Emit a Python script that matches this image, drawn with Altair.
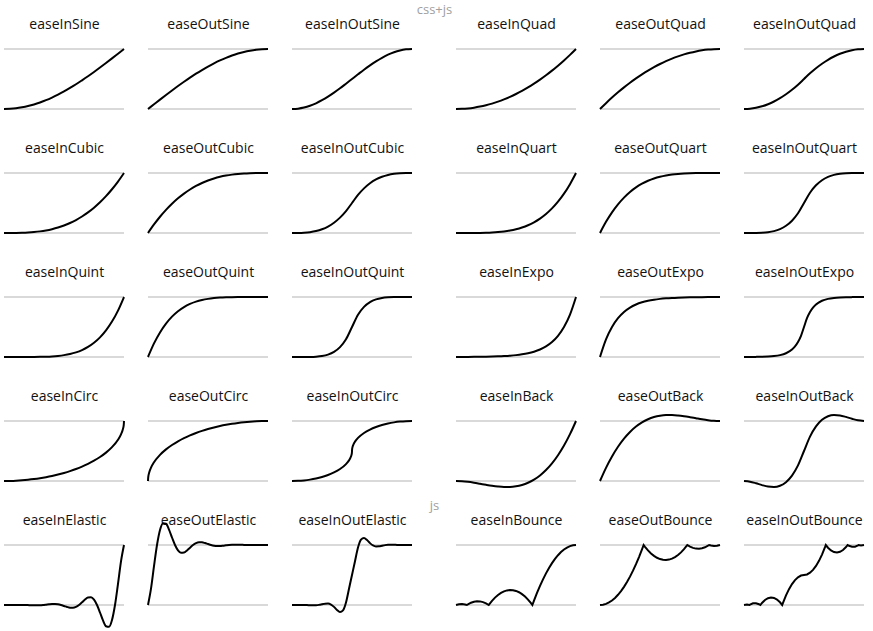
import altair as alt
import pandas as pd

# ---------------- sample positions ----------------
T21 = [0, .05, .1, .15, .2, .25, .3, .35, .4, .45, .5, .55, .6, .65, .7, .75, .8, .85, .9, .95, 1]
T41 = [0, .025, .05, .075, .1, .125, .15, .175, .2, .225, .25, .275, .3, .325, .35, .375, .4, .425,
       .45, .475, .5, .525, .55, .575, .6, .625, .65, .675, .7, .725, .75, .775, .8, .825, .85, .875,
       .9, .925, .95, .975, 1]
T_EXPO_IO = [0, .05, .1, .15, .2, .25, .3, .35, .4, .425, .45, .475, .5, .525, .55, .575, .6, .65, .7,
             .75, .8, .85, .9, .95, 1]
T_CIRC = [0, .002, .01, .025, .05, .1, .15, .2, .25, .3, .35, .4, .45, .5, .55, .6, .65, .7, .75, .8,
          .85, .9, .95, .975, .99, .998, 1]
T_CIRC_IO = [0, .05, .1, .15, .2, .25, .3, .35, .4, .45, .475, .4875, .495, .499, .5, .501, .505, .5125,
             .525, .55, .6, .65, .7, .75, .8, .85, .9, .95, 1]
T_BOUNCE_IN = [0, .025, .05, .075, .090909, .1, .125, .15, .175, .2, .225, .25, .272727, .275, .3, .325,
               .35, .375, .4, .425, .45, .475, .5, .525, .55, .575, .6, .625, .636364, .65, .675, .7,
               .725, .75, .775, .8, .825, .85, .875, .9, .925, .95, .975, 1]
T_BOUNCE_OUT = [0, .025, .05, .075, .1, .125, .15, .175, .2, .225, .25, .275, .3, .325, .35, .363636,
                .375, .4, .425, .45, .475, .5, .525, .55, .575, .6, .625, .65, .675, .7, .725, .727273,
                .75, .775, .8, .825, .85, .875, .9, .909091, .925, .95, .975, 1]
T_BOUNCE_IO = [0, .025, .045455, .05, .075, .1, .125, .136364, .15, .175, .2, .225, .25, .275, .3,
               .318182, .325, .35, .375, .4, .425, .45, .475, .5,
               .525, .55, .575, .6, .625, .65, .675, .681818, .7, .725, .75, .775, .8, .825, .85,
               .863636, .875, .9, .925, .95, .954545, .975, 1]

# ---------------- curve values ----------------
IN_SINE = [0, .003, .012, .028, .049, .076, .109, .147, .191, .240, .293, .351, .412, .478, .546, .617, .691, .767, .844, .922, 1]
OUT_SINE = [0, .078, .156, .233, .309, .383, .454, .523, .588, .649, .707, .760, .809, .853, .891, .924, .951, .972, .988, .997, 1]
INOUT_SINE = [0, .006, .024, .054, .095, .146, .206, .273, .345, .422, .5, .578, .655, .727, .794, .854, .905, .946, .976, .994, 1]

IN_QUAD = [0, .0025, .01, .0225, .04, .0625, .09, .1225, .16, .2025, .25, .3025, .36, .4225, .49, .5625, .64, .7225, .81, .9025, 1]
OUT_QUAD = [0, .0975, .19, .2775, .36, .4375, .51, .5775, .64, .6975, .75, .7975, .84, .8775, .91, .9375, .96, .9775, .99, .9975, 1]
INOUT_QUAD = [0, .005, .02, .045, .08, .125, .18, .245, .32, .405, .5, .595, .68, .755, .82, .875, .92, .955, .98, .995, 1]

IN_CUBIC = [0, .0001, .001, .0034, .008, .0156, .027, .0429, .064, .0911, .125, .1664, .216, .2746, .343, .4219, .512, .6141, .729, .8574, 1]
OUT_CUBIC = [0, .1426, .271, .3859, .488, .5781, .657, .7254, .784, .8336, .875, .9089, .936, .9571, .973, .9844, .992, .9966, .999, .9999, 1]
INOUT_CUBIC = [0, .0005, .004, .0135, .032, .0625, .108, .1715, .256, .3645, .5, .6355, .744, .8285, .892, .9375, .968, .9865, .996, .9995, 1]

IN_QUART = [0, 0, .0001, .0005, .0016, .0039, .0081, .015, .0256, .041, .0625, .0915, .1296, .1785, .2401, .3164, .4096, .522, .6561, .8145, 1]
OUT_QUART = [0, .1855, .3439, .478, .5904, .6836, .7599, .8215, .8704, .9085, .9375, .959, .9744, .985, .9919, .9961, .9984, .9995, .9999, 1, 1]
INOUT_QUART = [0, .0001, .0008, .0041, .0128, .0313, .0648, .1201, .2048, .3281, .5, .6719, .7952, .8799, .9352, .9688, .9872, .996, .9992, .9999, 1]

IN_QUINT = [0, 0, 0, .0001, .0003, .001, .0024, .0053, .0102, .0185, .0313, .0503, .0778, .116, .1681, .2373, .3277, .4437, .5905, .7738, 1]
OUT_QUINT = [0, .2262, .4095, .5563, .6723, .7627, .8319, .884, .9222, .9497, .9688, .9815, .9898, .9947, .9976, .999, .9997, .9999, 1, 1, 1]
INOUT_QUINT = [0, 0, .0002, .0012, .0051, .0156, .0389, .084, .1638, .2952, .5, .7048, .8362, .916, .9611, .9844, .9949, .9988, .9998, 1, 1]

IN_EXPO = [0, .0014, .002, .0028, .0039, .0055, .0078, .011, .0156, .0221, .0313, .0442, .0625, .0884, .125, .1768, .25, .3536, .5, .7071, 1]
OUT_EXPO = [0, .2929, .5, .6464, .75, .8232, .875, .9116, .9375, .9558, .9688, .9779, .9844, .989, .9922, .9945, .9961, .9972, .998, .9986, 1]
INOUT_EXPO = [0, .001, .002, .0039, .0078, .0156, .0313, .0625, .125, .1768, .25, .3536, .5, .6464, .75, .8232, .875, .9375, .9688, .9844, .9922, .9961, .998, .999, 1]

IN_CIRC = [0, 0, 0, .0003, .0013, .005, .0113, .0202, .0318, .0461, .0633, .0835, .107, .134, .1648, .2, .2401, .2859, .3386, .4, .4732, .5641, .6878, .7778, .8589, .9368, 1]
OUT_CIRC = [0, .0632, .1411, .2222, .3122, .4359, .5268, .6, .6614, .7141, .7599, .8, .8352, .866, .893, .9165, .9367, .9539, .9682, .9798, .9887, .995, .9987, .9997, 1, 1, 1]
INOUT_CIRC = [0, .0025, .0101, .0231, .0418, .067, .1, .1429, .2, .2821, .3439, .3889, .4294, .4684, .5,
              .5316, .5706, .6111, .6561, .7179, .8, .8571, .9, .933, .9583, .9769, .9899, .9975, 1]

IN_BACK = [0, -.0039, -.0143, -.0292, -.0465, -.0641, -.0802, -.0926, -.0994, -.0984, -.0877, -.0653, -.029, .023, .0929, .1826, .2942, .4297, .5912, .7806, 1]
OUT_BACK = [0, .2194, .4088, .5703, .7058, .8174, .9071, .977, 1.029, 1.0653, 1.0877, 1.0984, 1.0994, 1.0926, 1.0802, 1.0641, 1.0465, 1.0292, 1.0143, 1.0039, 1]
INOUT_BACK = [0, -.0112, -.0375, -.0682, -.0926, -.0997, -.0788, -.0192, .0899, .2594, .5, .7406, .9101, 1.0192, 1.0788, 1.0997, 1.0926, 1.0682, 1.0375, 1.0112, 1]

IN_ELASTIC = [0, 0, .0007, .0014, .002, .002, .0014, 0, -.002, -.004, -.0055, -.0057, -.0039, 0, .0055, .0114,
              .0156, .0161, .011, 0, -.0156, -.0322, -.0442, -.0455, -.0313, 0, .0442, .091, .125, .1288,
              .0884, 0, -.125, -.2575, -.3536, -.3641, -.25, 0, .3536, .7282, 1]
OUT_ELASTIC = [0, .2718, .6464, 1, 1.25, 1.3641, 1.3536, 1.2575, 1.125, 1, .9116, .8712, .875, .909, .9558, 1,
               1.0313, 1.0455, 1.0442, 1.0322, 1.0156, 1, .989, .9839, .9844, .9886, .9945, 1, 1.0039,
               1.0057, 1.0055, 1.004, 1.002, 1, .9986, .998, .998, .9986, .9993, 1, 1]
INOUT_ELASTIC = [0, .0005, .001, .0011, .0003, -.0014, -.0037, -.0052, -.0039, .0019, .012, .0221, .0239,
                 .0077, -.0313, -.0831, -.1175, -.0884, .0434, .2708, .5, .7292, .9566, 1.0884, 1.1175,
                 1.0831, 1.0313, .9923, .9761, .9779, .988, .9981, 1.0039, 1.0052, 1.0037, 1.0014, .9997,
                 .9989, .999, .9995, 1]

IN_BOUNCE = [0, .0125, .0155, .009, 0, .0119, .0381, .0548, .0621, .06, .0484, .0273, 0, .0062, .0694, .1231,
             .1673, .2021, .2275, .2434, .2498, .2468, .2344, .2125, .1811, .1403, .09, .0303, 0, .0736,
             .2012, .3194, .4281, .5273, .6172, .6975, .7684, .8298, .8818, .9244, .9575, .9811, .9953, 1]
OUT_BOUNCE = [0, .0047, .0189, .0425, .0756, .1182, .1702, .2316, .3025, .3828, .4727, .5719, .6806, .7988,
              .9264, 1, .9697, .91, .8597, .8189, .7875, .7656, .7532, .7502, .7566, .7725, .7979, .8327,
              .8769, .9306, .9938, 1, .9727, .9516, .94, .9379, .9452, .9619, .9881, 1, .991, .9845, .9875, 1]
INOUT_BOUNCE = [0, .0078, 0, .006, .0274, .03, .0137, 0, .0347, .0837, .1138, .1249, .1172, .0906, .045, 0,
                .0368, .1597, .2637, .3488, .4149, .4622, .4906, .5,
                .5095, .5378, .5851, .6513, .7364, .8403, .9632, 1, .955, .9095, .8828, .8751, .8863,
                .9164, .9653, 1, .9864, .97, .9726, .9941, 1, .9923, 1]

GUIDE_LEVELS = [0, 1]
SECTION_LABELS = {0: "css+js", 4: "js"}

ROWS = [
    [("easeInSine", T21, IN_SINE), ("easeOutSine", T21, OUT_SINE), ("easeInOutSine", T21, INOUT_SINE),
     ("easeInQuad", T21, IN_QUAD), ("easeOutQuad", T21, OUT_QUAD), ("easeInOutQuad", T21, INOUT_QUAD)],
    [("easeInCubic", T21, IN_CUBIC), ("easeOutCubic", T21, OUT_CUBIC), ("easeInOutCubic", T21, INOUT_CUBIC),
     ("easeInQuart", T21, IN_QUART), ("easeOutQuart", T21, OUT_QUART), ("easeInOutQuart", T21, INOUT_QUART)],
    [("easeInQuint", T21, IN_QUINT), ("easeOutQuint", T21, OUT_QUINT), ("easeInOutQuint", T21, INOUT_QUINT),
     ("easeInExpo", T21, IN_EXPO), ("easeOutExpo", T21, OUT_EXPO), ("easeInOutExpo", T_EXPO_IO, INOUT_EXPO)],
    [("easeInCirc", T_CIRC, IN_CIRC), ("easeOutCirc", T_CIRC, OUT_CIRC), ("easeInOutCirc", T_CIRC_IO, INOUT_CIRC),
     ("easeInBack", T21, IN_BACK), ("easeOutBack", T21, OUT_BACK), ("easeInOutBack", T21, INOUT_BACK)],
    [("easeInElastic", T41, IN_ELASTIC), ("easeOutElastic", T41, OUT_ELASTIC),
     ("easeInOutElastic", T41, INOUT_ELASTIC),
     ("easeInBounce", T_BOUNCE_IN, IN_BOUNCE), ("easeOutBounce", T_BOUNCE_OUT, OUT_BOUNCE),
     ("easeInOutBounce", T_BOUNCE_IO, INOUT_BOUNCE)],
]

FONT = "Open Sans"
PANEL_W, PANEL_H = 120, 60

xscale = alt.Scale(domain=[0, 1], nice=False, zero=False)
yscale = alt.Scale(domain=[0, 1], nice=False, zero=False)


def top_axis(label, size, color, pad):
    return alt.Axis(orient="top", title=label, labels=False, ticks=False, domain=False, grid=False,
                    minExtent=0, titleFont=FONT, titleFontSize=size, titleFontWeight="normal",
                    titleColor=color, titleBaseline="alphabetic", titlePadding=pad)


def panel(name, t, y):
    interp = "linear" if "Bounce" in name else "monotone"
    guides = alt.Chart(pd.DataFrame({"v": GUIDE_LEVELS})).mark_rule(
        color="#d9d9d9", strokeWidth=2
    ).encode(y=alt.Y("v:Q", scale=yscale, axis=None))
    curve = alt.Chart(pd.DataFrame({"t": t, "y": y})).mark_line(
        color="black", strokeWidth=2, interpolate=interp
    ).encode(
        x=alt.X("t:Q", scale=xscale, axis=top_axis(name, 14, "#111111", 21)),
        y=alt.Y("y:Q", scale=yscale, axis=None),
    )
    return alt.layer(guides, curve).properties(width=PANEL_W, height=PANEL_H)


def spacer(w, label=None):
    if label:
        xenc = alt.X("v:Q", scale=xscale, axis=top_axis(label, 13, "#a0a0a0", 36))
    else:
        xenc = alt.X("v:Q", scale=xscale, axis=None)
    return alt.Chart(pd.DataFrame({"v": [0.5]})).mark_point(opacity=0).encode(
        x=xenc, y=alt.value(PANEL_H / 2)
    ).properties(width=w, height=PANEL_H)


cells = []
for r, row in enumerate(ROWS):
    for c, (name, t, y) in enumerate(row):
        cells.append(panel(name, t, y))
        if c < 5:
            gap = 44 if c == 2 else 24
            label = SECTION_LABELS.get(r) if c == 2 else None
            cells.append(spacer(gap, label))

chart = alt.concat(
    *cells, columns=11, spacing={"row": 64, "column": 0}, bounds="flush"
).properties(
    padding={"left": 0, "top": 3, "right": 0, "bottom": 0}
).configure_view(strokeWidth=0)

chart.save("out.html", embed_options={"renderer": "svg", "actions": False})
